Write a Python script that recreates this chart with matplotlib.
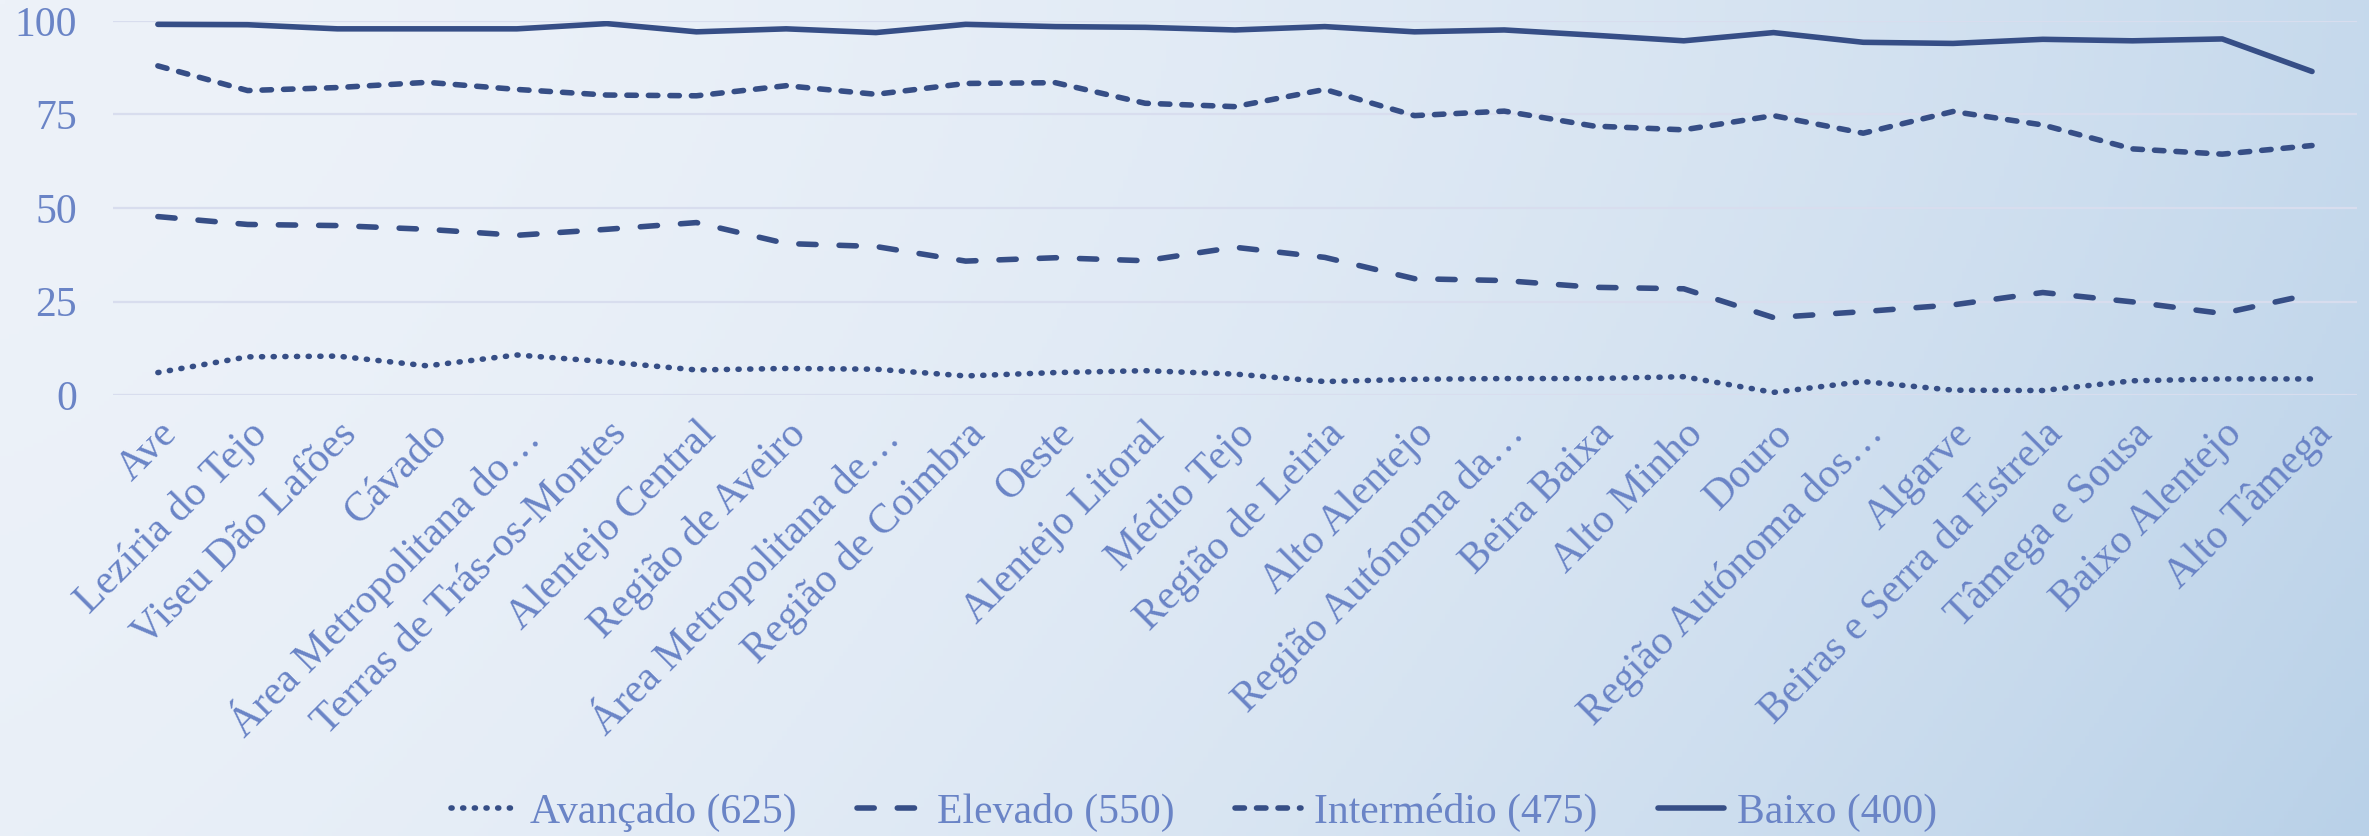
import numpy as np
import matplotlib
matplotlib.use("Agg")
import matplotlib.pyplot as plt
from matplotlib.colors import to_rgb

regions = [
    "Ave", "Lezíria do Tejo", "Viseu Dão Lafões", "Cávado",
    "Área Metropolitana do…", "Terras de Trás-os-Montes", "Alentejo Central",
    "Região de Aveiro", "Área Metropolitana de…", "Região de Coimbra", "Oeste",
    "Alentejo Litoral", "Médio Tejo", "Região de Leiria", "Alto Alentejo",
    "Região Autónoma da…", "Beira Baixa", "Alto Minho", "Douro",
    "Região Autónoma dos…", "Algarve", "Beiras e Serra da Estrela",
    "Tâmega e Sousa", "Baixo Alentejo", "Alto Tâmega",
]

avancado = [6.0, 10.2, 10.4, 7.8, 10.7, 8.9, 6.7, 7.1, 6.9, 5.1, 6.0, 6.5, 5.6,
            3.6, 4.2, 4.4, 4.4, 4.9, 0.7, 3.6, 1.3, 1.2, 3.8, 4.3, 4.3]
elevado = [47.7, 45.6, 45.3, 44.3, 42.7, 44.3, 46.1, 40.5, 39.7, 35.8, 36.7, 35.9,
           39.5, 36.8, 31.1, 30.6, 28.8, 28.4, 20.7, 22.3, 24.1, 27.4, 24.9, 21.8, 27.0]
intermedio = [88.0, 81.4, 82.2, 83.6, 81.7, 80.2, 80.0, 82.7, 80.4, 83.3, 83.5, 78.0,
              77.1, 81.7, 74.7, 75.9, 71.9, 70.9, 74.7, 70.0, 75.8, 72.2, 65.8, 64.4, 66.7]
baixo = [99.1, 99.0, 97.9, 97.9, 97.9, 99.3, 97.1, 97.9, 96.9, 99.1, 98.5, 98.3,
         97.6, 98.5, 97.1, 97.6, 96.2, 94.7, 96.9, 94.3, 94.0, 95.1, 94.7, 95.2, 86.5]

series_labels = ["Avançado (625)", "Elevado (550)", "Intermédio (475)", "Baixo (400)"]
yticks = [0, 25, 50, 75, 100]

line_color = "#364E86"
text_color = "#6A84C6"
grid_color = "#D8DDEE"
lw = 4.0

plt.rcParams["font.family"] = ["Liberation Serif", "DejaVu Serif"]

fig = plt.figure(figsize=(23.69, 8.36), dpi=100)

# gradient background
bg = fig.add_axes([0, 0, 1, 1], zorder=-10)
h, w = 200, 500
yy, xx = np.mgrid[0:1:h * 1j, 0:1:w * 1j]
t = np.clip(0.75 * xx ** 1.8 + 0.25 * yy ** 1.5 * (0.3 + 0.7 * xx), 0, 1)
c0 = np.array(to_rgb("#EDF2F9"))
c1 = np.array(to_rgb("#B9D1E8"))
img = c0[None, None, :] * (1 - t[..., None]) + c1[None, None, :] * t[..., None]
bg.imshow(img, aspect="auto", extent=[0, 1, 0, 1], origin="upper")
bg.axis("off")

ax = fig.add_axes([0.0477, 0.5275, 0.9472, 0.4474])
ax.set_facecolor("none")

x = np.arange(len(regions))
ax.plot(x, avancado, color=line_color, lw=lw, dashes=(0.2, 1.9),
        dash_capstyle="round", label=series_labels[0])
ax.plot(x, elevado, color=line_color, lw=lw, dashes=(3.1, 4.15),
        dash_capstyle="round", label=series_labels[1])
ax.plot(x, intermedio, color=line_color, lw=lw, dashes=(1.7, 2.17),
        dash_capstyle="round", label=series_labels[2])
ax.plot(x, baixo, color=line_color, lw=lw, solid_capstyle="round",
        label=series_labels[3])

ax.set_xlim(-0.5, len(regions) - 0.5)
ax.set_ylim(0, 100)
ax.set_yticks(yticks)
ax.set_xticks(x)
ax.set_xticklabels(regions, rotation=45, ha="right", va="top",
                   rotation_mode="anchor")
ax.tick_params(axis="both", length=0, labelsize=30, labelcolor=text_color)
ax.tick_params(axis="y", pad=26)
ax.tick_params(axis="x", pad=14)
ax.grid(axis="y", color=grid_color, lw=1.6)
ax.set_axisbelow(True)
for s in ax.spines.values():
    s.set_visible(False)

fig.legend(loc="center", bbox_to_anchor=(0.504, 0.028), ncol=4, frameon=False,
           fontsize=30, labelcolor=text_color, handlelength=1.6,
           handletextpad=0.3, columnspacing=1.45)

fig.savefig("out.png", dpi=100)
